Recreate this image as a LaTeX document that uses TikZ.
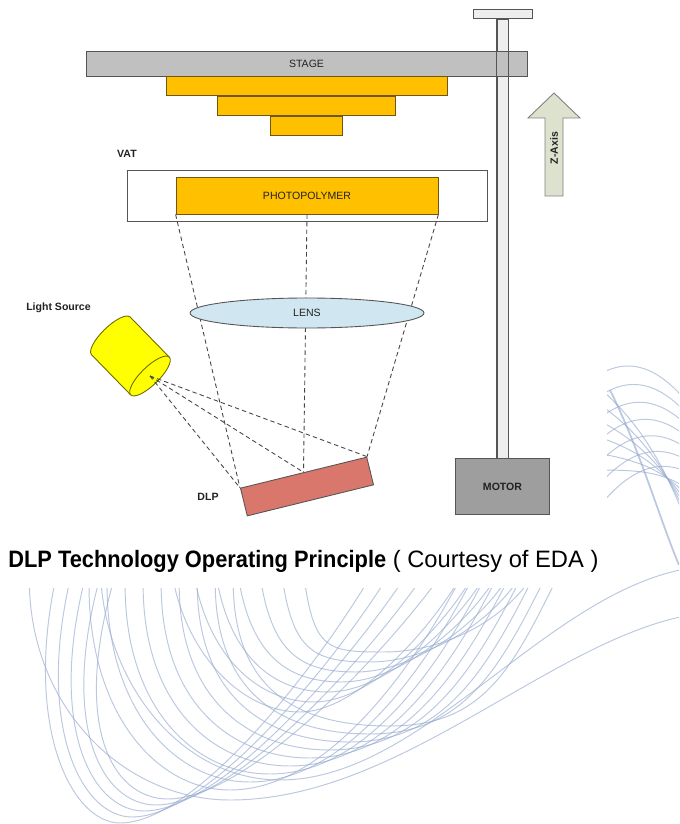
\documentclass[tikz,border=0pt]{standalone}
\usepackage{fontspec}
\setmainfont{Liberation Sans}
\usepackage{graphicx}
\usetikzlibrary{positioning,shapes.geometric}
\definecolor{stagegray}{RGB}{192,192,192}
\definecolor{edgegray}{RGB}{85,85,85}
\definecolor{layerorange}{RGB}{255,192,0}
\definecolor{layeredge}{RGB}{110,86,20}
\definecolor{lensblue}{RGB}{208,230,240}
\definecolor{dlpred}{RGB}{217,119,109}
\definecolor{motorgray}{RGB}{158,158,158}
\definecolor{rodgray}{RGB}{238,238,238}
\definecolor{lampyellow}{RGB}{255,255,0}
\definecolor{lampedge}{RGB}{110,105,0}
\definecolor{zarrow}{RGB}{221,226,206}
\definecolor{swirl}{RGB}{150,170,206}
\definecolor{rayline}{RGB}{70,70,70}
\definecolor{labeltext}{RGB}{34,34,34}

\begin{document}
\begin{tikzpicture}[x=0.02cm, y=-0.02cm,
  every node/.style={font=\fontsize{6}{7}\selectfont, text=labeltext},
  part/.style={draw=edgegray, line width=0.5pt, inner sep=0pt},
  printlayer/.style={part, fill=layerorange, draw=layeredge, minimum height=0.38cm},
  lbl/.style={font=\fontsize{6}{7}\selectfont\bfseries, inner sep=0pt},
  ray/.style={draw=rayline, line width=0.5pt, dash pattern=on 2.5pt off 1.8pt},
  swirlline/.style={draw=swirl, line width=0.55pt, opacity=0.65}
]
  \useasboundingbox (0,0) rectangle (679,824);

  % background swirls, right strip and bottom
  \begin{scope}
    \clip (0,0) rectangle (679,824);
    % outer loops, steep right branch
    \foreach \i in {0,...,4}
      \draw[swirlline] (60+15*\i,560) .. controls (20+12*\i,720) and (70+10*\i,823-6*\i)
        .. (120+12*\i,823-6*\i) .. controls (200+12*\i,823-6*\i) and (330+15*\i,650) .. (380+18*\i,560);
    % middle loops
    \foreach \i in {0,...,8}
      \draw[swirlline] (90+18*\i,560) .. controls (80+18*\i,700) and (150+20*\i,790-8*\i)
        .. (230+20*\i,790-8*\i) .. controls (330+20*\i,790-8*\i) and (420+12*\i,660) .. (470+12*\i,560);
    % inner loops
    \foreach \i in {0,...,6}
      \draw[swirlline] (170+22*\i,560) .. controls (180+22*\i,650) and (240+14*\i,712-10*\i)
        .. (300+14*\i,712-10*\i) .. controls (360+14*\i,712-10*\i) and (440+12*\i,620) .. (470+12*\i,560);
    % long loops out to the right edge
    \draw[swirlline] (30,560) .. controls (20,700) and (120,800) .. (230,800) .. controls (400,800) and (550,640) .. (690,615);
    \draw[swirlline] (100,560) .. controls (100,680) and (180,780) .. (280,780) .. controls (420,780) and (540,600) .. (680,570);
    % right strip
    \foreach \i in {0,...,6}
      \draw[swirlline] (580,390+24*\i) .. controls (620,350+20*\i) and (660,360+15*\i) .. (700,420+10*\i);
    \foreach \i in {0,...,5}
      \draw[swirlline] (590,380+18*\i) .. controls (640,420+10*\i) and (670,470) .. (700,560-12*\i);
    \draw[swirlline, line width=1pt] (610,390) .. controls (640,450) and (660,520) .. (679,565);
  \end{scope}
  \fill[white] (0,0) rectangle (607,588);

  % stage, rod and motor
  \node[part, fill=rodgray, minimum width=0.22cm, minimum height=8.78cm] (rod) at (502.5,238.5) {};
  \node[part, fill=rodgray, minimum width=1.18cm, minimum height=0.18cm, above=0pt of rod] (rodcap) {};
  \node[part, fill=stagegray, minimum width=8.82cm, minimum height=0.5cm] (stage) at (306.5,63.5) {STAGE};
  \draw[edgegray, line width=0.5pt] (rod.north west) -- (rod.south west) (rod.north east) -- (rod.south east);
  \node[part, fill=motorgray, minimum width=1.88cm, minimum height=1.12cm, below=0pt of rod, font=\fontsize{6}{7}\selectfont\bfseries] (motor) {MOTOR};

  % printed part under the stage
  \node[printlayer, minimum width=5.62cm, below=0pt of stage] (layerA) {};
  \node[printlayer, minimum width=3.56cm, below=0pt of layerA] (layerB) {};
  \node[printlayer, minimum width=1.44cm, below=0pt of layerB] (layerC) {};

  % z axis
  \draw[draw=gray, fill=zarrow, line width=0.5pt] (545,196) -- (545,118) -- (528,118) -- (554,93)
    -- (580,118) -- (563,118) -- (563,196) -- cycle;
  \node[lbl, rotate=90] (zlbl) at (554,148) {Z-Axis};

  % vat with resin
  \node[lbl] (vatlbl) at (127,154) {VAT};
  \node[part, fill=white, minimum width=7.2cm, minimum height=1.02cm] (vat) at (307,195.5) {};
  \node[printlayer, minimum width=5.24cm, minimum height=0.74cm] (resin) at (vat) {PHOTOPOLYMER};

  % light source
  \node[lbl] (lamplbl) at (58.5,308) {Light Source};
  \begin{scope}[shift={(150,376)}, rotate=-45.7]
    \filldraw[fill=lampyellow, draw=lampedge, line width=0.5pt] (-56,0) ellipse [x radius=9, y radius=27];
    \fill[lampyellow] (-56,-27) rectangle (0,27);
    \draw[lampedge, line width=0.5pt] (-56,-27) -- (0,-27) (-56,27) -- (0,27);
    \filldraw[fill=lampyellow, draw=lampedge, line width=0.5pt] (0,0) ellipse [x radius=9, y radius=27];
    \coordinate (lamp) at (0,0);
  \end{scope}

  % mirror array
  \node[part, fill=dlpred, minimum width=2.6cm, minimum height=0.57cm, rotate=13.8] (dlp) at (307,486.5) {};
  \node[lbl] (dlplbl) at (208,497) {DLP};

  % light paths
  \draw[ray] (lamp) -- (dlp.north west);
  \draw[ray] (lamp) -- (dlp.north);
  \draw[ray] (lamp) -- (dlp.north east);
  \draw[ray] (resin.south west) -- (dlp.north west);
  \draw[ray] (resin.south) -- (dlp.north);
  \draw[ray] (resin.south east) -- (dlp.north east);

  \node[part, ellipse, fill=lensblue, draw=edgegray, minimum width=4.68cm, minimum height=0.6cm] (lens) at (307,313) {LENS};

  % caption
  \node[anchor=base west, inner sep=0pt, text=black, font=\fontsize{13.5}{16}\selectfont] (caption) at (8,567)
    {\scalebox{0.92}[1]{\bfseries DLP Technology Operating Principle} ( Courtesy of EDA )};
\end{tikzpicture}
\end{document}
